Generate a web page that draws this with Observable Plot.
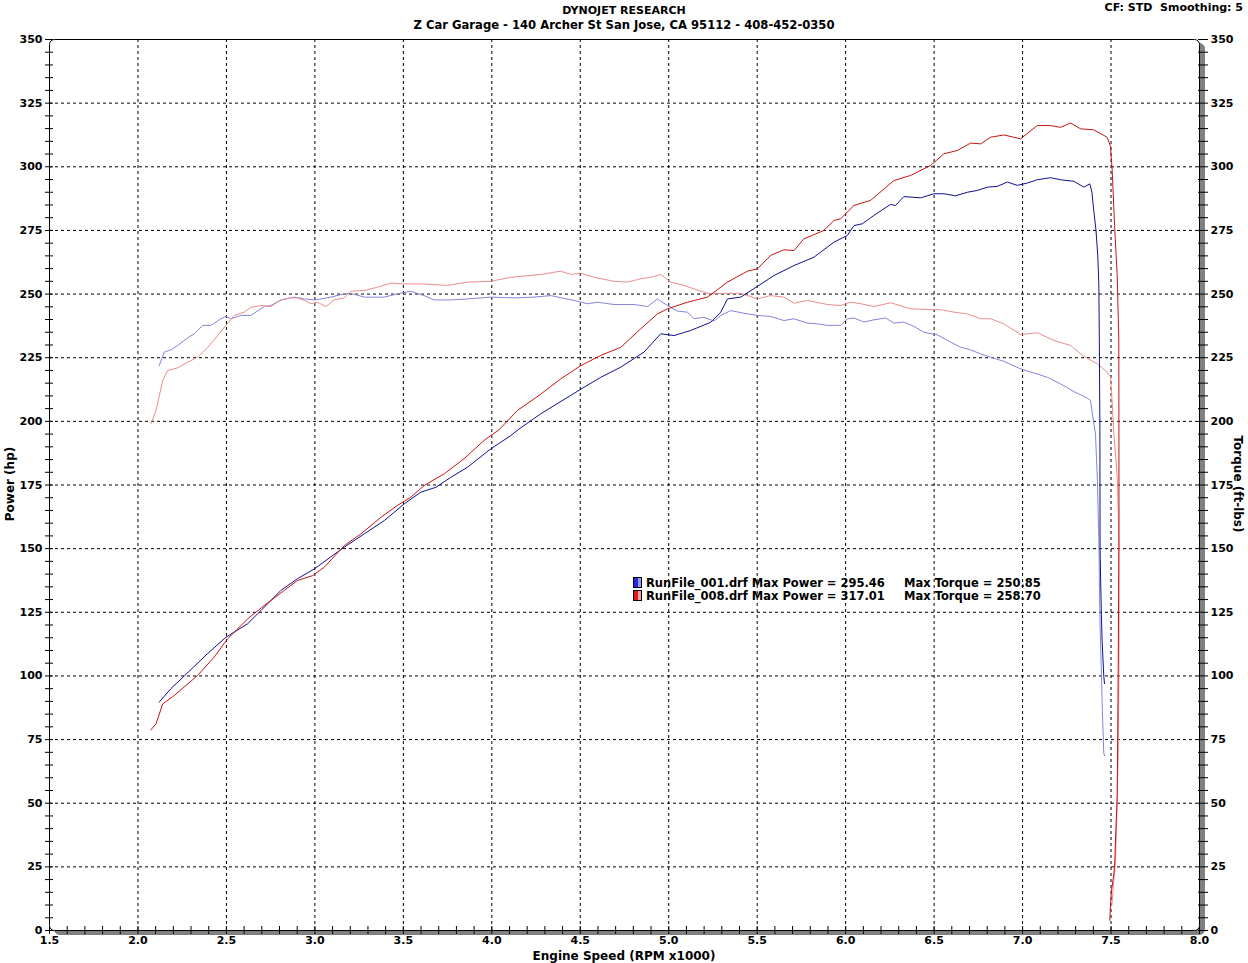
<!DOCTYPE html>
<html>
<head>
<meta charset="utf-8">
<script src="https://cdn.jsdelivr.net/npm/d3@7"></script>
<script src="https://cdn.jsdelivr.net/npm/@observablehq/plot@0.6"></script>
<style>
  body { margin: 0; background: #fff; }
  #wrap { position: relative; width: 1248px; height: 963px; overflow: hidden; background: #fff; }
  .t { position: absolute; font-family: "DejaVu Sans", Verdana, sans-serif; font-weight: bold; color: #000; white-space: pre; line-height: 1; }
  .sw { position: absolute; width: 7px; height: 9px; border: 1px solid #000; }
</style>
</head>
<body>
<div id="wrap"></div>
<script>
// ---- Run 001 (blue) ----
const run001PowerRpm = [2.120,2.186,2.262,2.394,2.497,2.620,2.695,2.808,2.902,2.996,3.166,3.279,3.392,3.505,3.599,3.684,3.768,3.863,3.994,4.107,4.154,4.277,4.446,4.521,4.616,4.729,4.860,4.955,5.030,5.124,5.237,5.294,5.332,5.407,5.501,5.595,5.708,5.821,5.934,6.009,6.047,6.094,6.160,6.216,6.254,6.282,6.329,6.424,6.499,6.555,6.621,6.688,6.744,6.801,6.857,6.914,6.970,7.026,7.083,7.158,7.215,7.290,7.346,7.380,7.392,7.402,7.415,7.425,7.431,7.434,7.437,7.438,7.445,7.450,7.459,7.463];
const run001Power    = [89.7,95,100,108.8,115.2,120.5,125.7,133.6,138.2,142,150.6,155.8,161,167.6,172.2,174.1,178,182,189.2,194.4,197,203,210.2,213.4,217.3,221.3,227.2,234.4,233.7,235.7,238.9,242.9,248.1,248.8,253,257.3,261.2,264.5,270.4,273,276.9,277.6,280.9,283.5,285.2,284.8,288.3,287.8,289.4,289.4,288.6,290,290.7,292,292.3,294,292.7,293.6,294.9,295.7,294.9,294.3,292,293.3,290,283,275,265,254,230,196,150,125,113,100,97];

const run001TorqueRpm = [2.120,2.149,2.186,2.224,2.281,2.318,2.366,2.412,2.469,2.497,2.525,2.582,2.638,2.714,2.751,2.808,2.883,2.940,2.996,3.034,3.090,3.147,3.203,3.279,3.392,3.467,3.542,3.618,3.674,3.768,3.863,3.994,4.126,4.239,4.333,4.465,4.541,4.597,4.691,4.804,4.880,4.936,4.993,5.049,5.106,5.143,5.199,5.256,5.294,5.350,5.425,5.501,5.576,5.651,5.708,5.784,5.840,5.897,5.972,6.009,6.047,6.103,6.160,6.226,6.273,6.329,6.386,6.442,6.518,6.593,6.650,6.706,6.763,6.819,6.894,6.989,7.064,7.140,7.215,7.290,7.365,7.384,7.394,7.412,7.422,7.431,7.437,7.445,7.450,7.459,7.463];
const run001Torque    = [221.9,227.2,228.1,229.8,232.8,234.4,237.7,237.7,240.3,241.3,240.3,241.6,241.6,245.1,245.5,247.7,248.8,248.1,247.7,248.1,248.8,249.8,250.3,248.8,248.8,250.1,251.1,249.4,247.7,247.7,248.1,248.8,248.5,248.8,249.4,247.5,246.2,246.8,245.9,245.9,245.1,248.1,245.5,243.3,242.9,240.3,240.9,239.4,241.6,243.5,242.5,241.6,241.2,239.6,240.3,238.6,238.3,237.7,237.7,240.3,240.6,239,239.9,240.6,238.6,239,237.3,235,234,231.1,229.1,228.1,226.5,225.2,223.6,220.6,219,217.3,214.7,211.7,209.2,208.2,203.2,195,178.5,154,123,102.6,88.2,69.7,68.7];

// ---- Run 008 (red) ----
const run008PowerRpm = [2.073,2.102,2.140,2.205,2.337,2.431,2.507,2.620,2.714,2.827,2.902,2.987,3.053,3.166,3.260,3.373,3.467,3.542,3.618,3.731,3.843,3.956,4.041,4.145,4.267,4.390,4.503,4.616,4.729,4.842,4.936,4.993,5.106,5.219,5.332,5.445,5.501,5.576,5.651,5.708,5.764,5.877,5.934,5.972,6.047,6.141,6.273,6.367,6.480,6.555,6.631,6.706,6.763,6.819,6.894,6.989,7.083,7.158,7.215,7.271,7.328,7.403,7.478,7.497,7.507,7.520,7.535,7.544,7.545,7.541,7.535,7.527,7.521,7.516,7.503,7.497,7.493];
const run008Power    = [78.8,81.2,89,92.3,100.2,107.4,114.6,122.4,127.7,133.6,137.5,139.4,142.7,151.2,155.8,162.3,167,170.2,174.8,179.4,185.3,192.5,196.7,204.3,210.2,216.7,221.9,225.9,229.1,236.4,242.2,244.2,246.8,248.8,254.7,259,259.9,265.2,267.4,267.1,271.7,275,278.9,279.6,284.8,286.8,294.6,296.6,300.5,305.1,306.4,309.3,309,311.6,312.5,311,316.2,316.2,315.5,317.2,314.9,314.5,311.6,308,298,277,257,232,162,107,53,39,27,22,16,10,4];

const run008TorqueRpm = [2.073,2.102,2.140,2.168,2.224,2.281,2.337,2.394,2.450,2.497,2.544,2.601,2.638,2.695,2.751,2.808,2.864,2.902,2.940,2.977,3.015,3.062,3.109,3.166,3.203,3.279,3.354,3.429,3.505,3.599,3.750,3.863,3.994,4.107,4.277,4.390,4.446,4.503,4.578,4.691,4.767,4.842,4.898,4.955,5.011,5.086,5.181,5.237,5.312,5.407,5.501,5.576,5.651,5.708,5.784,5.897,5.972,6.028,6.085,6.160,6.254,6.367,6.480,6.537,6.612,6.688,6.763,6.819,6.894,6.989,7.083,7.177,7.271,7.346,7.423,7.478,7.497,7.503,7.516,7.535,7.545,7.545,7.541,7.535,7.525,7.516,7.505];
const run008Torque    = [199,204.3,216,220,221,223.2,225.2,229.1,233.7,237.7,241.6,242.9,244.8,245.5,245.1,247.7,248.5,248.5,247.5,246.2,246.8,245.1,247.7,248.5,251.1,251.4,252.7,254.3,254,254,253.4,254.7,255,256.6,257.7,259,257.7,258.2,256.6,255,254.7,256,256.6,257.7,254.7,253.4,251.1,250.1,250.3,250.3,248.1,249.4,248.8,246.4,247.5,245.9,245.5,246.8,246.2,245.1,246.6,244.2,243.9,243.9,242.9,242.2,240.3,240.3,238.3,234.1,234.8,231.8,229.8,225.5,222.6,219.3,217.4,211.4,195,178.5,154,106.8,71.9,51.2,26.7,20.4,10];

// ---- Axis ticks & texts ----
const xMajorTicks = [1.5,2.0,2.5,3.0,3.5,4.0,4.5,5.0,5.5,6.0,6.5,7.0,7.5,8.0];
const xMinorTicks = d3.range(15, 81).map(d => d / 10);
const yMajorTicks = [0,25,50,75,100,125,150,175,200,225,250,275,300,325,350];
const yMinorTicks = d3.range(0, 351, 5);
const seriesNames = ["001 Power", "001 Torque", "008 Power", "008 Torque"];
const seriesColors = ["#101090", "#8484dc", "#c81414", "#ec8c8c"];
const legendRows = [
  {file: "RunFile_001.drf", power: "295.46", torque: "250.85", c1: "#2828d8", c2: "#9a9af0"},
  {file: "RunFile_008.drf", power: "317.01", torque: "258.70", c1: "#e01818", c2: "#f4a0a0"}
];

const rows = [];
function addSeries(name, xs, ys) { xs.forEach((x, i) => rows.push({series: name, rpm: x, value: ys[i]})); }
addSeries("001 Torque", run001TorqueRpm, run001Torque);
addSeries("008 Torque", run008TorqueRpm, run008Torque);
addSeries("001 Power", run001PowerRpm, run001Power);
addSeries("008 Power", run008PowerRpm, run008Power);

const inner = (arr, lo, hi) => arr.filter(d => d > lo && d < hi);

const chart = Plot.plot({
  width: 1248, height: 963,
  marginTop: 39, marginRight: 49, marginBottom: 33, marginLeft: 49,
  x: {domain: [1.5, 8.0], label: null},
  y: {domain: [0, 350], label: null},
  color: {domain: seriesNames, range: seriesColors},
  style: {fontFamily: "DejaVu Sans, Verdana, sans-serif", fontSize: "11px", fontWeight: "bold", color: "#000", background: "transparent"},
  marks: [
    Plot.frame({fill: "#808080", stroke: "#808080", dx: 5, dy: 4, rx: 5}),
    Plot.frame({fill: "white", stroke: "black", strokeWidth: 1, rx: 5}),
    Plot.gridX(inner(xMajorTicks, 1.5, 8.0), {stroke: "black", strokeOpacity: 1, strokeDasharray: "3,3"}),
    Plot.gridY(inner(yMajorTicks, 0, 350), {stroke: "black", strokeOpacity: 1, strokeDasharray: "3,3"}),
    Plot.line(rows, {x: "rpm", y: "value", z: "series", stroke: "series", strokeWidth: 1}),
    // left axis
    Plot.axisY(yMinorTicks, {anchor: "left", tickSize: 8, dx: 4, tickFormat: () => "", label: null}),
    Plot.axisY(yMajorTicks, {anchor: "left", tickSize: 0, tickPadding: 7, label: null}),
    // right axis
    Plot.axisY(yMinorTicks, {anchor: "right", tickSize: 10, dx: -2, tickFormat: () => "", label: null}),
    Plot.axisY(yMajorTicks, {anchor: "right", tickSize: 0, tickPadding: 11, label: null}),
    // bottom axis
    Plot.axisX(xMinorTicks, {anchor: "bottom", tickSize: 8, dy: -4, tickFormat: () => "", label: null}),
    Plot.axisX(xMajorTicks, {anchor: "bottom", tickSize: 0, tickPadding: 6, tickFormat: d => d.toFixed(1), label: null})
  ]
});

const wrap = document.getElementById("wrap");
chart.style.position = "absolute";
chart.style.left = "0px";
chart.style.top = "0px";
wrap.appendChild(chart);

function addText(txt, css) {
  const d = document.createElement("div");
  d.className = "t";
  d.textContent = txt;
  Object.assign(d.style, css);
  wrap.appendChild(d);
  return d;
}
addText("DYNOJET RESEARCH", {left: "624px", top: "5px", fontSize: "11px", transform: "translateX(-50%)"});
addText("Z Car Garage - 140 Archer St San Jose, CA 95112 - 408-452-0350", {left: "624px", top: "20px", fontSize: "11.6px", transform: "translateX(-50%)"});
addText("CF: STD  Smoothing: 5", {right: "5px", top: "2px", fontSize: "11px"});
addText("Engine Speed (RPM x1000)", {left: "624px", top: "950px", fontSize: "12px", transform: "translateX(-50%)"});
addText("Power (hp)", {left: "10px", top: "484px", fontSize: "12px", transform: "translate(-50%,-50%) rotate(-90deg)"});
addText("Torque (ft-lbs)", {left: "1238px", top: "484px", fontSize: "12px", transform: "translate(-50%,-50%) rotate(90deg)"});

legendRows.forEach((r, i) => {
  const top = 577 + i * 13;
  const sw = document.createElement("div");
  sw.className = "sw";
  sw.style.left = "633px";
  sw.style.top = top + "px";
  sw.style.background = `linear-gradient(to right, ${r.c1} 55%, ${r.c2} 55%)`;
  wrap.appendChild(sw);
  addText(`${r.file} Max Power = ${r.power}`, {left: "646px", top: (top + 1) + "px", fontSize: "11.5px"});
  addText(`Max Torque = ${r.torque}`, {left: "904px", top: (top + 1) + "px", fontSize: "11.5px"});
});
</script>
</body>
</html>
